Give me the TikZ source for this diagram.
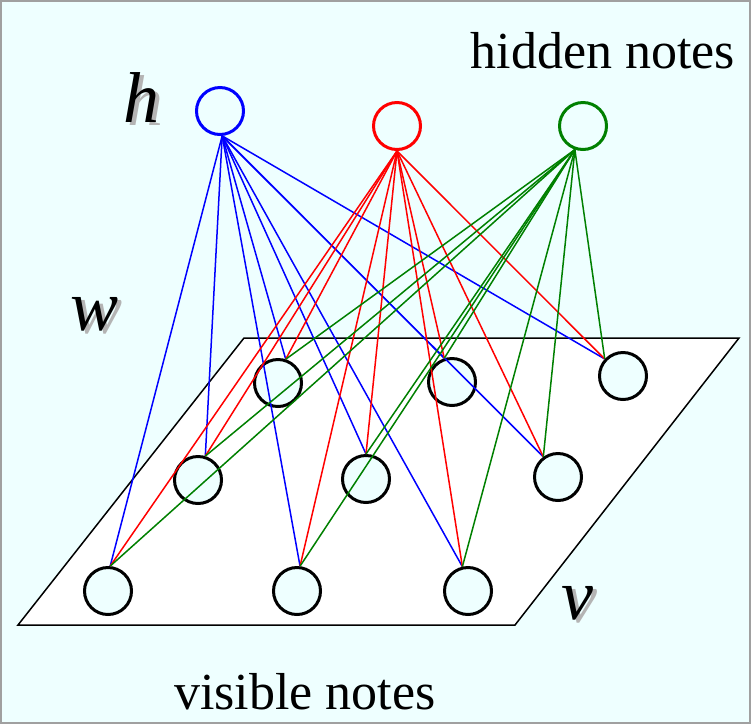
\documentclass[tikz,border=0pt]{standalone}
\usepackage{fontspec}
\setmainfont{Liberation Serif}
\definecolor{bgc}{RGB}{238,255,255}
\definecolor{bordergray}{RGB}{160,160,160}
\definecolor{hblue}{RGB}{0,0,255}
\definecolor{hred}{RGB}{255,0,0}
\definecolor{hgreen}{RGB}{0,128,0}
\definecolor{shadowgray}{RGB}{180,180,180}
\newcommand{\shadowed}[1]{\rlap{\hspace{4pt}\raisebox{-3pt}{\textcolor{shadowgray}{#1}}}#1}
\begin{document}
\begin{tikzpicture}[x=1pt,y=-1pt,
  vis/.style={circle, draw=black, line width=3pt, fill=bgc, minimum size=47pt, inner sep=0pt},
  hid/.style={circle, line width=3pt, fill=bgc, minimum size=47pt, inner sep=0pt},
  link/.style={line width=1.5pt},
  caption/.style={anchor=base, inner sep=0pt, font=\fontsize{52}{60}\selectfont},
  symb/.style={anchor=base, inner sep=0pt, font=\fontsize{72}{80}\selectfont\itshape}]
\useasboundingbox (0,0) rectangle (751,724);
\draw[bordergray, line width=2pt, fill=bgc] (1,1) rectangle (750,723);
\draw[line width=1.5pt, fill=white] (18,625) -- (515,625) -- (739,338) -- (244,338) -- cycle;

% visible nodes
\node[vis] (v1) at (108,591) {};
\node[vis] (v2) at (297,591) {};
\node[vis] (v3) at (468,591) {};
\node[vis] (v4) at (198,480) {};
\node[vis] (v5) at (366,479) {};
\node[vis] (v6) at (558,477) {};
\node[vis] (v7) at (278,383) {};
\node[vis] (v8) at (452,382) {};
\node[vis] (v9) at (623,376) {};

% hidden nodes
\node[hid, draw=hblue] (h1) at (220,111) {};
\node[hid, draw=hred] (h2) at (397,126) {};
\node[hid, draw=hgreen] (h3) at (583,126) {};

% connection points
\coordinate (e1) at (v1.85);
\coordinate (e2) at (v2.83);
\coordinate (e3) at (v3.103);
\coordinate (e4) at (v4.73);
\coordinate (e5) at (v5.90);
\coordinate (e6) at (v6.126);
\coordinate (e7) at (v7.72);
\coordinate (e8) at (v8.108);
\coordinate (e9) at (v9.137);
\coordinate (s1) at (h1.-85);
\coordinate (s2) at (h2.-90);
\coordinate (s3) at (h3.-109);

\foreach \e in {e1,e2,e3,e4,e5,e6,e7,e8,e9} \draw[link, hblue] (s1) -- (\e);
\foreach \e in {e1,e2,e3,e4,e5,e6,e7,e8,e9} \draw[link, hred] (s2) -- (\e);
\foreach \e in {e1,e2,e3,e4,e5,e6,e7,e8,e9} \draw[link, hgreen] (s3) -- (\e);

% labels
\node[caption] (hn) at (603,68) {hidden notes};
\node[caption] (vn) at (305,709) {visible notes};

\node[symb] (hl) at (141,122) {\shadowed{h}};
\node[symb] (wl) at (95,330) {\shadowed{w}};
\node[symb] (vl) at (577,619) {\shadowed{v}};
\end{tikzpicture}
\end{document}
